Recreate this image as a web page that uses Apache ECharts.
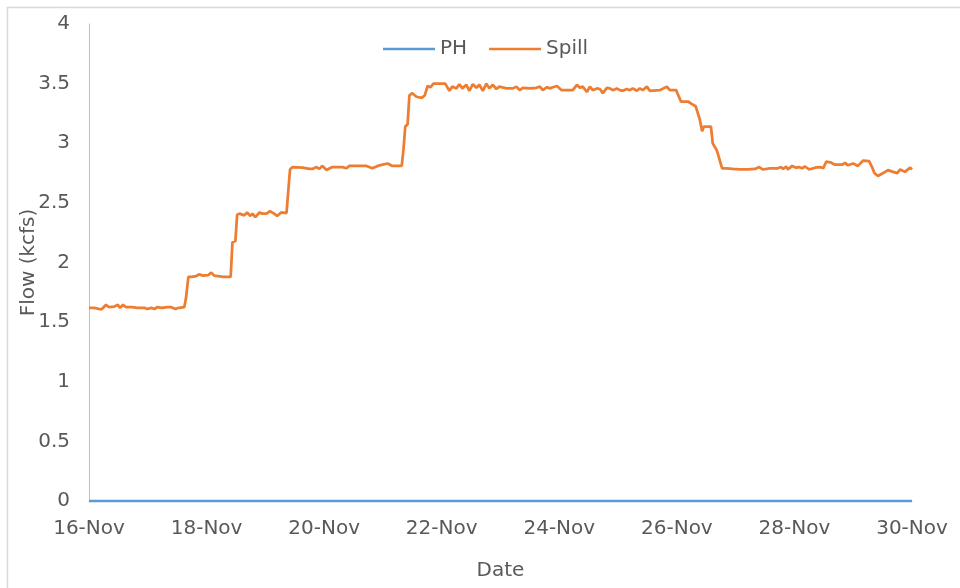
<!doctype html>
<html lang="en">
  <head>
    <meta charset="utf-8">
    <title>PH / Spill flow</title>
    <script src="https://cdn.jsdelivr.net/npm/echarts@6.0.0/dist/echarts.min.js"></script>
    <style>
      html, body { margin: 0; padding: 0; background: #fff; }
      #chart { width: 960px; height: 588px; }
    </style>
  </head>
  <body>
    <div id="chart"></div>

  <script>
    // x values are days after 16-Nov
    var dateLabels = ['16-Nov', '18-Nov', '20-Nov', '22-Nov', '24-Nov', '26-Nov', '28-Nov', '30-Nov'];

    var phDays = [0, 14];
    var phFlow = [0, 0];

    var spillDays = [
      0.00, 0.09, 0.17, 0.22, 0.29, 0.34, 0.43, 0.49, 0.53, 0.58, 0.63, 0.73, 0.82, 0.94, 0.99, 1.06, 1.11, 1.16, 1.24, 1.33,
      1.40, 1.47, 1.53, 1.62, 1.65, 1.69, 1.74, 1.82, 1.87, 1.94, 2.03, 2.08, 2.13, 2.20, 2.28, 2.41, 2.44, 2.49, 2.52, 2.56,
      2.64, 2.69, 2.74, 2.78, 2.83, 2.90, 2.95, 3.02, 3.08, 3.15, 3.20, 3.27, 3.36, 3.39, 3.42, 3.46, 3.63, 3.66, 3.75, 3.80,
      3.87, 3.92, 3.97, 4.04, 4.14, 4.31, 4.38, 4.43, 4.72, 4.82, 4.94, 5.08, 5.16, 5.32, 5.35, 5.38, 5.42, 5.45, 5.50, 5.57,
      5.66, 5.71, 5.76, 5.81, 5.86, 6.06, 6.13, 6.18, 6.25, 6.30, 6.35, 6.42, 6.47, 6.53, 6.59, 6.64, 6.70, 6.76, 6.81, 6.87,
      6.93, 6.98, 7.10, 7.21, 7.27, 7.33, 7.38, 7.50, 7.61, 7.67, 7.72, 7.79, 7.84, 7.89, 7.96, 8.04, 8.18, 8.23, 8.30, 8.35,
      8.40, 8.47, 8.52, 8.57, 8.64, 8.69, 8.74, 8.81, 8.86, 8.91, 8.98, 9.03, 9.08, 9.15, 9.20, 9.25, 9.32, 9.37, 9.42, 9.49,
      9.54, 9.71, 9.83, 9.88, 9.99, 10.01, 10.07, 10.19, 10.25, 10.32, 10.39, 10.43, 10.46, 10.58, 10.61, 10.68, 10.77, 10.85, 10.95, 11.07,
      11.21, 11.33, 11.40, 11.46, 11.58, 11.72, 11.77, 11.81, 11.86, 11.89, 11.96, 12.03, 12.08, 12.13, 12.18, 12.25, 12.35, 12.44, 12.49, 12.54,
      12.61, 12.69, 12.81, 12.86, 12.91, 13.00, 13.08, 13.17, 13.27, 13.32, 13.36, 13.42, 13.51, 13.59, 13.68, 13.75, 13.80, 13.88, 13.97, 14.00
    ];
    var spillFlow = [
      1.62, 1.62, 1.61, 1.61, 1.645, 1.625, 1.63, 1.645, 1.62, 1.645, 1.625, 1.625, 1.62, 1.62, 1.61, 1.62, 1.61, 1.625, 1.62, 1.625,
      1.625, 1.61, 1.62, 1.625, 1.70, 1.88, 1.88, 1.885, 1.90, 1.89, 1.895, 1.915, 1.89, 1.885, 1.88, 1.88, 2.17, 2.18, 2.40, 2.41,
      2.395, 2.42, 2.39, 2.41, 2.38, 2.42, 2.41, 2.41, 2.43, 2.41, 2.39, 2.42, 2.415, 2.60, 2.78, 2.80, 2.795, 2.80, 2.785, 2.785,
      2.80, 2.785, 2.81, 2.775, 2.80, 2.80, 2.79, 2.81, 2.81, 2.79, 2.815, 2.83, 2.81, 2.81, 2.95, 3.14, 3.16, 3.40, 3.42, 3.39,
      3.38, 3.40, 3.48, 3.47, 3.50, 3.50, 3.44, 3.475, 3.46, 3.495, 3.46, 3.49, 3.44, 3.495, 3.465, 3.49, 3.44, 3.50, 3.46, 3.49,
      3.455, 3.475, 3.46, 3.46, 3.475, 3.445, 3.465, 3.46, 3.465, 3.475, 3.445, 3.47, 3.46, 3.47, 3.48, 3.445, 3.445, 3.445, 3.49, 3.465,
      3.475, 3.43, 3.475, 3.445, 3.46, 3.455, 3.42, 3.465, 3.46, 3.445, 3.46, 3.445, 3.44, 3.455, 3.445, 3.46, 3.44, 3.46, 3.445, 3.475,
      3.44, 3.445, 3.475, 3.445, 3.445, 3.42, 3.35, 3.35, 3.33, 3.31, 3.20, 3.10, 3.14, 3.14, 3.00, 2.94, 2.79, 2.79, 2.785, 2.78,
      2.78, 2.785, 2.80, 2.78, 2.79, 2.79, 2.80, 2.785, 2.805, 2.78, 2.81, 2.795, 2.80, 2.79, 2.805, 2.78, 2.795, 2.80, 2.79, 2.845,
      2.84, 2.82, 2.82, 2.835, 2.815, 2.83, 2.81, 2.855, 2.85, 2.80, 2.75, 2.725, 2.75, 2.775, 2.76, 2.75, 2.78, 2.76, 2.795, 2.78
    ];

    var phData = phDays.map(function (d, i) { return [d, phFlow[i]]; });
    var spillData = spillDays.map(function (d, i) { return [d, spillFlow[i]]; });

    var font = 'DejaVu Sans';
    var textColor = '#595959';

    var chart = echarts.init(document.getElementById('chart'), null, { renderer: 'canvas' });

    var option = {
      animation: false,
      backgroundColor: '#ffffff',
      textStyle: { fontFamily: font },
      graphic: [{
        type: 'rect',
        left: 5, top: 5,
        shape: { width: 1000, height: 1000 },
        style: { fill: 'none', stroke: '#d9d9d9', lineWidth: 1.5 },
        z: -10
      }],
      legend: {
        left: 378,
        top: 34,
        icon: 'rect',
        itemWidth: 52,
        itemHeight: 2.5,
        itemGap: 22,
        textStyle: { fontFamily: font, fontSize: 20, color: textColor },
        data: ['PH', 'Spill']
      },
      grid: { left: 89, right: 48, top: 24, bottom: 87 },
      xAxis: {
        type: 'value',
        min: 0,
        max: 14,
        interval: 2,
        name: 'Date',
        nameLocation: 'middle',
        nameGap: 60,
        nameTextStyle: { fontFamily: font, fontSize: 20, color: textColor },
        axisLine: { show: true, lineStyle: { color: '#bfbfbf', width: 1 } },
        axisTick: { show: false },
        splitLine: { show: false },
        axisLabel: {
          margin: 18,
          fontFamily: font,
          fontSize: 20,
          color: textColor,
          formatter: function (v) { return dateLabels[Math.round(v / 2)]; }
        }
      },
      yAxis: {
        type: 'value',
        min: 0,
        max: 4,
        interval: 0.5,
        name: 'Flow (kcfs)',
        nameLocation: 'middle',
        nameGap: 50,
        nameMoveOverlap: false,
        nameTextStyle: { fontFamily: font, fontSize: 20, color: textColor },
        axisLine: { show: true, lineStyle: { color: '#bfbfbf', width: 1 } },
        axisTick: { show: false },
        splitLine: { show: false },
        axisLabel: { margin: 19, fontFamily: font, fontSize: 20, color: textColor }
      },
      series: [
        {
          name: 'PH',
          type: 'line',
          data: phData,
          symbol: 'none',
          lineStyle: { color: '#5b9bd5', width: 2.75 },
          itemStyle: { color: '#5b9bd5' }
        },
        {
          name: 'Spill',
          type: 'line',
          data: spillData,
          symbol: 'none',
          lineStyle: { color: '#ed7d31', width: 2.75 },
          itemStyle: { color: '#ed7d31' }
        }
      ]
    };

    chart.setOption(option);
    window.addEventListener('resize', chart.resize);
  </script>
  </body>
</html>
